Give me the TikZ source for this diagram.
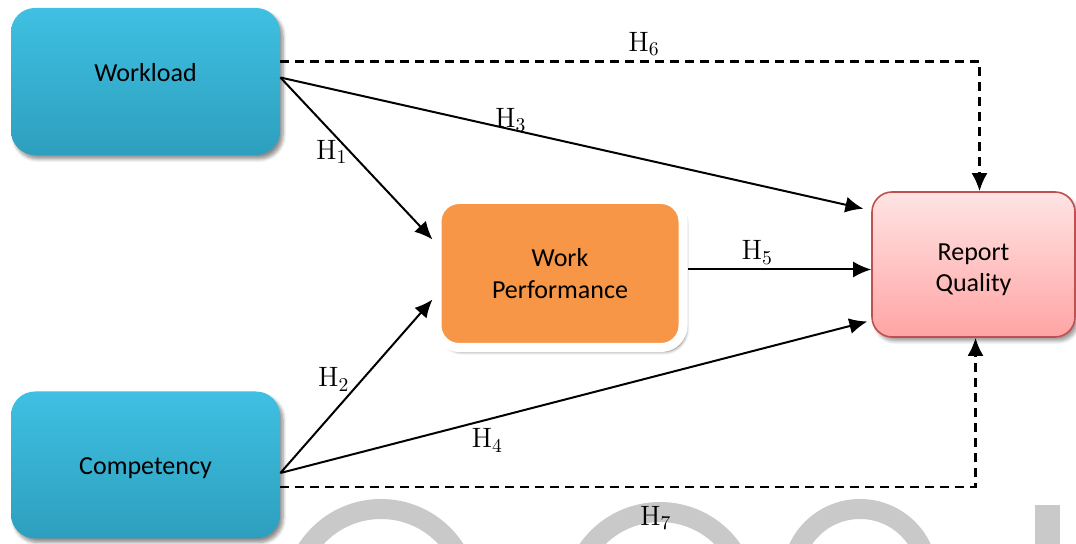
\documentclass[tikz,border=0pt]{standalone}
\usepackage{fontspec}
\newfontfamily\boxfont{Carlito}
\usetikzlibrary{arrows.meta,shadows.blur}

\definecolor{wlcyan}{HTML}{3FC0E2}
\definecolor{wlcyandark}{HTML}{2D9FBE}
\definecolor{wporange}{HTML}{F79646}
\definecolor{rqpinktop}{HTML}{FFE4E4}
\definecolor{rqpink}{HTML}{FFA4A4}
\definecolor{rqborder}{HTML}{C0504D}
\definecolor{markgray}{HTML}{C9C9C9}

\tikzset{
  boxtext/.style={font=\boxfont\fontsize{13}{15.6}\selectfont, align=center},
  varbox/.style={boxtext, rounded corners=12pt, top color=wlcyan, bottom color=wlcyandark,
    minimum width=134.5pt, minimum height=73.5pt,
    blur shadow={shadow xshift=1.5pt, shadow yshift=-2pt, shadow blur steps=6, shadow opacity=45}},
  medbox/.style={boxtext, rounded corners=11pt, fill=wporange, draw=white, line width=4.5pt,
    minimum width=123pt, minimum height=74pt,
    blur shadow={shadow xshift=1.5pt, shadow yshift=-2pt, shadow blur steps=6, shadow opacity=55}},
  outbox/.style={boxtext, rounded corners=10pt, top color=rqpinktop, bottom color=rqpink,
    draw=rqborder, line width=0.8pt, minimum width=101.5pt, minimum height=72.5pt,
    blur shadow={shadow xshift=1.5pt, shadow yshift=-2pt, shadow blur steps=6, shadow opacity=40}},
  hyp/.style={font=\fontsize{14}{16}\selectfont, inner sep=1pt},
  link/.style={line width=1pt, ->},
  dlink/.style={line width=1.2pt, ->, dash pattern=on 4.5pt off 3pt},
}

\begin{document}
\begin{tikzpicture}[x=0.5pt, y=-0.5pt, >={Latex[length=9pt,width=8pt]}]
\useasboundingbox (0,0) rectangle (1076,544);

% Grey letters along the bottom edge
\begin{scope}
  \clip (0,0) rectangle (1076,544);
  \draw[markgray, line width=10pt] (381,597) circle (88);
  \draw[markgray, line width=10pt] (660,600) circle (88);
  \draw[markgray, line width=10pt] (860,577) circle (68);
  \fill[markgray] (1035,505) rectangle (1060,544);
\end{scope}

% Variables
\node[varbox, label={[boxtext, yshift=4.5pt]center:Workload}] (wl) at (145.5,81.5) {};
\node[varbox, label={[boxtext, yshift=-1.5pt]center:Competency}] (cp) at (145.5,465) {};
\node[medbox] (wp) at (560,273.5) {Work\\Performance};
\node[outbox, label={[boxtext, yshift=-2.5pt]center:Report\\Quality}] (rq) at (973.5,264.5) {};

% Hypotheses from Workload
\draw[link] ([yshift=2pt]wl.east) -- node[hyp, pos=0.46, anchor=east] {H\textsubscript{1}} ([yshift=17pt]wp.west);
\draw[link, shorten >=4pt] ([yshift=2pt]wl.east) -- node[hyp, pos=0.39, anchor=south, yshift=-3pt] {H\textsubscript{3}} ([yshift=27pt]rq.west);
\draw[dlink] ([yshift=10pt]wl.east) -| node[hyp, pos=0.26, above=1pt] {H\textsubscript{6}} ([xshift=3pt]rq.north);

% Mediator to outcome
\draw[link] ([yshift=2pt]wp.east) -- node[hyp, pos=0.38, above=1pt] {H\textsubscript{5}} ([yshift=2pt]wp.east -| rq.west);

% Hypotheses from Competency
\draw[link] ([yshift=-4pt]cp.east) -- node[hyp, pos=0.54, anchor=east, xshift=-5pt] {H\textsubscript{2}} ([yshift=-13pt]wp.west);
\draw[link, shorten >=2pt] ([yshift=-4pt]cp.east) -- node[hyp, pos=0.35, below=3pt] {H\textsubscript{4}} ([yshift=-28pt]rq.west);
\draw[dlink] ([yshift=-11pt]cp.east) -| node[hyp, pos=0.27, below=8pt] {H\textsubscript{7}} ([xshift=1pt]rq.south);
\end{tikzpicture}
\end{document}
